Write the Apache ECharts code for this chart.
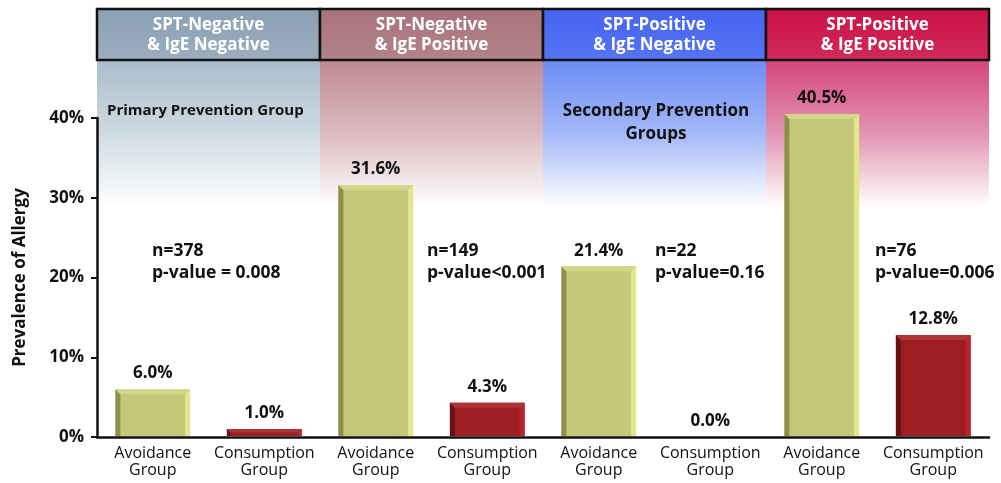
<!DOCTYPE html>
<html>
<head>
<meta charset="utf-8">
<script src="https://cdn.jsdelivr.net/npm/echarts@6/dist/echarts.min.js"></script>
<style>
  html, body { margin: 0; padding: 0; background: #fff; }
  #chart { width: 1001px; height: 483px; }
</style>
</head>
<body>
<div id="chart"></div>
<script>
// data
const categories = [
    "Avoidance\nGroup", "Consumption\nGroup",
    "Avoidance\nGroup", "Consumption\nGroup",
    "Avoidance\nGroup", "Consumption\nGroup",
    "Avoidance\nGroup", "Consumption\nGroup"
];
const prevalence = [6.0, 1.0, 31.6, 4.3, 21.4, 0.0, 40.5, 12.8];
const groupHeaders = [
    "SPT-Negative\n& IgE Negative",
    "SPT-Negative\n& IgE Positive",
    "SPT-Positive\n& IgE Negative",
    "SPT-Positive\n& IgE Positive"
];
const groupNotes = [
    "n=378\np-value = 0.008",
    "n=149\np-value<0.001",
    "n=22\np-value=0.16",
    "n=76\np-value=0.006"
];
const preventionLabels = ["Primary Prevention Group", "Secondary Prevention\nGroups"];

const FONT = "'Open Sans', 'DejaVu Sans', sans-serif";

// header / band colours per group
const headerColors = [
    ["#8ba0b4", "#9caebf"],
    ["#a8737a", "#b3838a"],
    ["#4563f1", "#5675f3"],
    ["#cc1147", "#d02a5c"]
];
const bandColors = [
    ["#a9bccb", "#cfdbe3"],
    ["#bf8a92", "#dbbbc0"],
    ["#6c8cf6", "#a3b8f8"],
    ["#d3467a", "#e294b2"]
];

// bevel colours: main, left, right, top
const avoidColors = ["#c5c879", "#8c904c", "#e3e88a", "#d3d78a"];
const consumColors = ["#9d1d23", "#6b1015", "#b8262c", "#ad3539"];

function renderBevelBar(params, api) {
    let idx = api.value(0);
    let val = api.value(1);
    let top = api.coord([idx, val]);
    let base = api.coord([idx, 0]);
    let w = api.size([1, 0])[0] * 0.67;
    let x0 = top[0] - w / 2, x1 = top[0] + w / 2;
    let y0 = top[1], y1 = base[1] - 1;
    let h = y1 - y0;
    let c = categories[idx].startsWith("Avoidance") ? avoidColors : consumColors;
    let children = [];
    if (h > 0.5) {
        let b = Math.min(5, h / 2);
        children.push(
            { type: "rect", shape: { x: x0, y: y0, width: w, height: h }, style: { fill: c[0] } },
            { type: "polygon", shape: { points: [[x0, y0], [x0 + b, y0 + b], [x0 + b, y1], [x0, y1]] }, style: { fill: c[1] } },
            { type: "polygon", shape: { points: [[x1, y0], [x1 - b, y0 + b], [x1 - b, y1], [x1, y1]] }, style: { fill: c[2] } },
            { type: "polygon", shape: { points: [[x0, y0], [x1, y0], [x1 - b, y0 + b], [x0 + b, y0 + b]] }, style: { fill: c[3] } }
        );
    }
    children.push({
        type: "text",
        x: top[0],
        y: y0 - 7,
        style: {
            text: val.toFixed(1) + "%",
            align: "center",
            verticalAlign: "bottom",
            fill: "#111",
            font: "bold 17px " + FONT
        }
    });
    return { type: "group", children: children };
}

let chartDom = document.getElementById("chart");
let myChart = echarts.init(chartDom);

let option = {
    animation: false,
    grid: { left: 97, right: 12, top: 118, bottom: 46 },
    xAxis: {
        type: "category",
        data: categories,
        axisLine: { lineStyle: { color: "#111", width: 2.5 } },
        axisTick: { alignWithLabel: true, length: 6, lineStyle: { color: "#111", width: 2 } },
        axisLabel: {
            interval: 0,
            fontSize: 16,
            lineHeight: 17,
            color: "#111",
            margin: 8,
            fontFamily: FONT
        }
    },
    yAxis: {
        type: "value",
        min: 0,
        max: 40,
        interval: 10,
        name: "Prevalence of Allergy",
        nameLocation: "middle",
        nameRotate: 90,
        nameGap: 68,
        nameTextStyle: { fontSize: 17, color: "#111", fontWeight: "bold", fontFamily: FONT },
        axisLine: { show: true, lineStyle: { color: "#111", width: 2.5 } },
        axisTick: { show: true, length: 6, lineStyle: { color: "#111", width: 2 } },
        axisLabel: {
            formatter: "{value}%",
            fontSize: 17,
            fontWeight: "bold",
            color: "#111",
            margin: 13,
            fontFamily: FONT
        },
        splitLine: { show: false }
    },
    series: [
        {
            type: "custom",
            renderItem: renderBevelBar,
            clip: false,
            z: 5,
            data: prevalence.map((v, i) => [i, v])
        }
    ]
};

myChart.setOption(option);

// header boxes and fading bands, placed from the category axis
let c0 = myChart.convertToPixel({ xAxisIndex: 0 }, 0);
let c1 = myChart.convertToPixel({ xAxisIndex: 0 }, 1);
let step = c1 - c0;
let graphics = [];
groupHeaders.forEach((label, k) => {
    let left = myChart.convertToPixel({ xAxisIndex: 0 }, 2 * k) - step / 2;
    let width = 2 * step;
    graphics.push({
        type: "rect",
        silent: true,
        z: -10,
        shape: { x: left, y: 60, width: width, height: 147 },
        style: {
            fill: new echarts.graphic.LinearGradient(0, 0, 0, 1, [
                { offset: 0, color: bandColors[k][0] },
                { offset: 0.5, color: bandColors[k][1] },
                { offset: 1, color: "#ffffff" }
            ])
        }
    });
    graphics.push({
        type: "rect",
        silent: true,
        z: 10,
        shape: { x: left, y: 9, width: width, height: 51 },
        style: {
            fill: new echarts.graphic.LinearGradient(0, 0, 0, 1, [
                { offset: 0, color: headerColors[k][0] },
                { offset: 1, color: headerColors[k][1] }
            ]),
            stroke: "#111",
            lineWidth: 2.5
        }
    });
    graphics.push({
        type: "text",
        silent: true,
        z: 11,
        x: left + width / 2,
        y: 35,
        style: {
            text: label,
            align: "center",
            verticalAlign: "middle",
            fill: "#fff",
            font: "bold 17px " + FONT,
            lineHeight: 20
        }
    });
});

// annotation texts
let noteX = [152, 427, 655, 875];
groupNotes.forEach((note, k) => {
    graphics.push({
        type: "text",
        silent: true,
        z: 11,
        x: noteX[k],
        y: 262,
        style: {
            text: note,
            align: "left",
            verticalAlign: "middle",
            fill: "#111",
            font: "bold 17.5px " + FONT,
            lineHeight: 22
        }
    });
});
graphics.push({
    type: "text",
    silent: true,
    z: 11,
    x: 107,
    y: 111,
    style: {
        text: preventionLabels[0],
        align: "left",
        verticalAlign: "middle",
        fill: "#111",
        font: "bold 15px " + FONT
    }
});
graphics.push({
    type: "text",
    silent: true,
    z: 11,
    x: 656,
    y: 123,
    style: {
        text: preventionLabels[1],
        align: "center",
        verticalAlign: "middle",
        fill: "#111",
        font: "bold 17px " + FONT,
        lineHeight: 23
    }
});

myChart.setOption({ graphic: { elements: graphics } });
</script>
</body>
</html>
